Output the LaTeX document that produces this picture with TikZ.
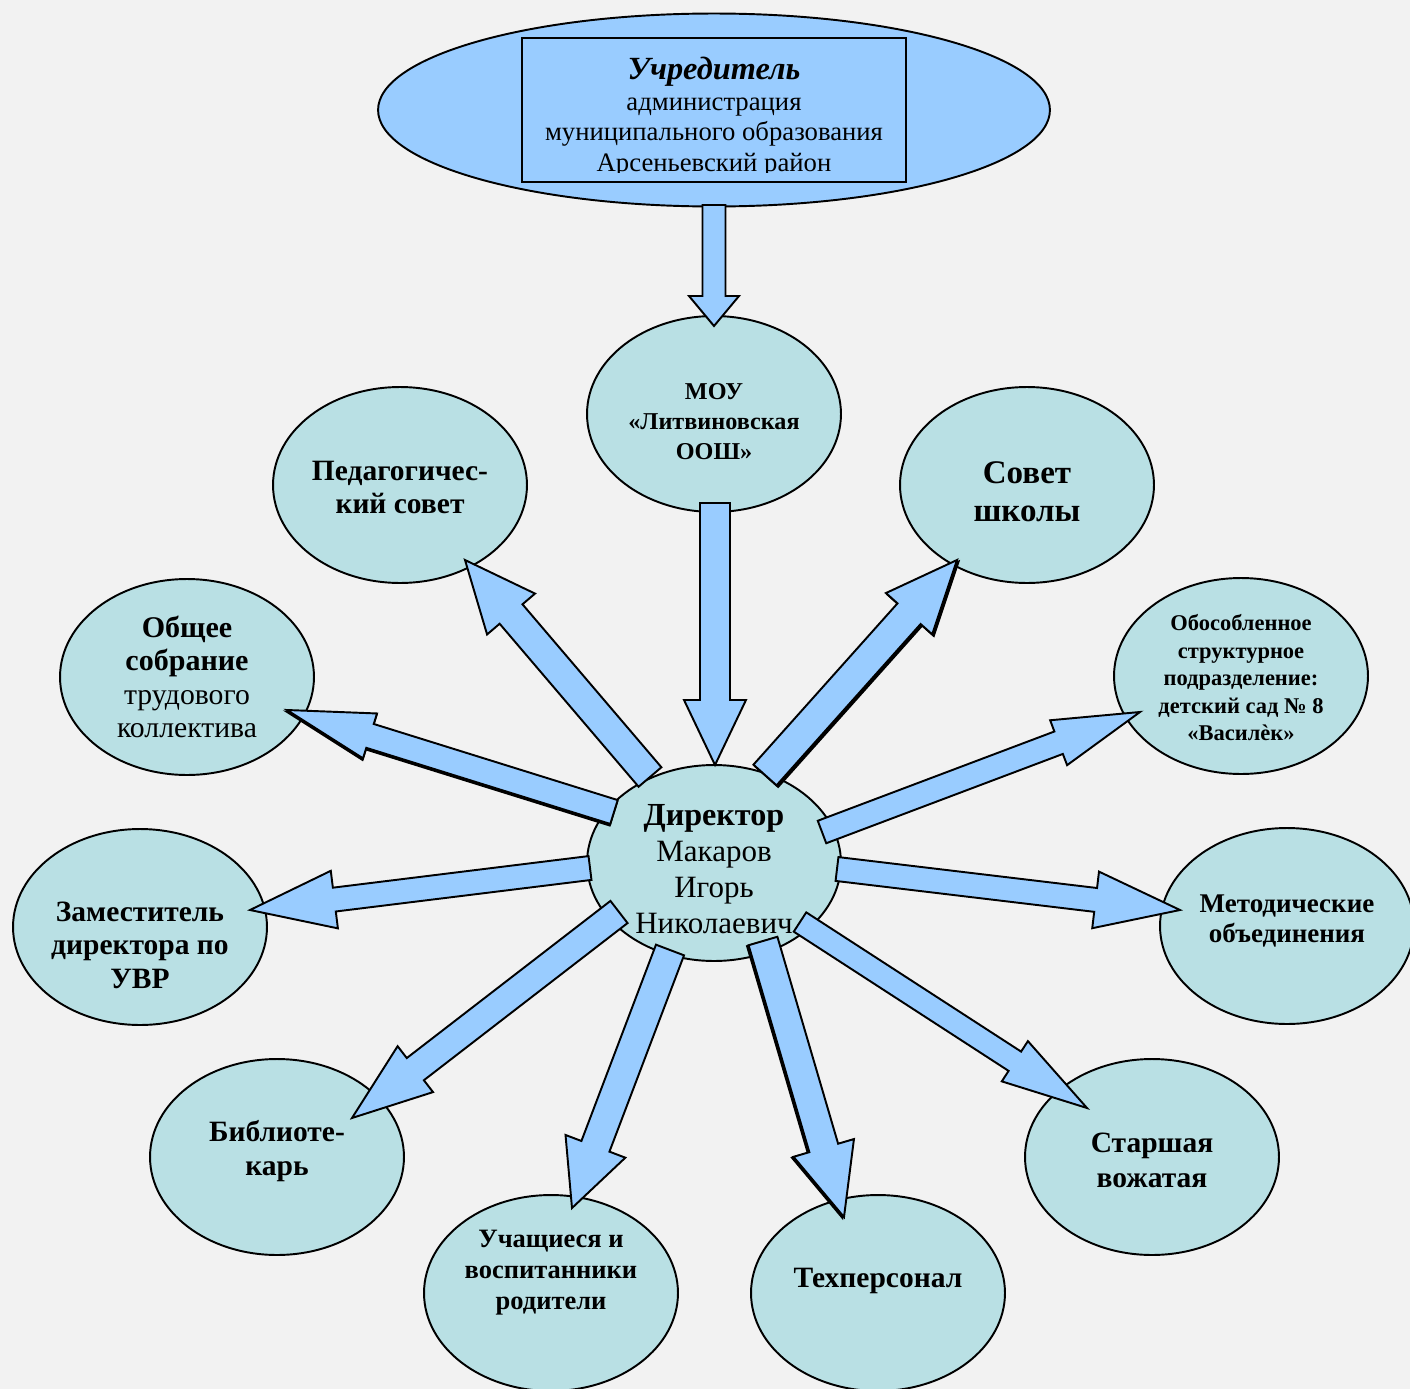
\documentclass[tikz,border=0pt]{standalone}
\usepackage{fontspec}
\setmainfont{Liberation Serif}
\usetikzlibrary{calc,shapes.geometric}
\definecolor{bgc}{HTML}{F2F2F2}
\definecolor{ovalc}{HTML}{B9E0E4}
\definecolor{bluec}{HTML}{99CCFF}
\newcommand\blockarrow[6][]{%
 \pgfmathsetlengthmacro\bw{#4*0.569055}%
 \pgfmathsetlengthmacro\bh{#5*0.569055}%
 \pgfmathsetlengthmacro\bl{#6*0.569055}%
 \coordinate (bH) at ($(#3)!\bl!(#2)$);%
 \draw[barrow,#1] ($(#2)!\bw!90:(#3)$) -- ($(bH)!\bw!90:(#3)$) -- ($(bH)!\bh!90:(#3)$) -- (#3) -- ($(bH)!\bh!-90:(#3)$) -- ($(bH)!\bw!-90:(#3)$) -- ($(#2)!\bw!-90:(#3)$) -- cycle;}
\begin{document}
\begin{tikzpicture}[x=0.02cm,y=-0.02cm,
  oval/.style={ellipse, draw, line width=1.1pt, fill=ovalc, minimum width=5.08cm, minimum height=3.92cm, inner sep=0pt},
  txt/.style={align=center, inner sep=0pt},
  barrow/.style={draw=black, fill=bluec, line width=1.1pt, line join=miter},
  fs/.style 2 args={font={\pgfmathsetlengthmacro\fsa{#1*0.569055}\pgfmathsetlengthmacro\fsb{#2*0.569055}\fontsize{\fsa}{\fsb}\selectfont}}]
\useasboundingbox (0,0) rectangle (1410,1389);
\fill[bgc] (0,0) rectangle (1410,1389);

% top
\node[ellipse, draw, line width=1.1pt, fill=bluec, minimum width=13.44cm, minimum height=3.86cm, inner sep=0pt] (uch) at (714,110) {};
\node[rectangle, draw, line width=1.3pt, fill=bluec, minimum width=7.68cm, minimum height=2.88cm, inner sep=0pt] (uchbox) at (714,110) {};
\begin{scope}
\clip (523,39) rectangle (905,172);
\node[txt, fs={26.7}{30.5}] (uchtxt) at (714,117) {{\fontsize{18.4pt}{17.4pt}\selectfont\bfseries\itshape Учредитель}\\администрация\\муниципального образования\\Арсеньевский район};
\end{scope}

% ovals
\node[oval] (mou) at (714,414) {};
\node[oval] (ped) at (400,485) {};
\node[oval] (sov) at (1027,485) {};
\node[oval] (obs) at (187,677) {};
\node[oval] (obo) at (1241,676) {};
\node[oval] (dir) at (714,863) {};
\node[oval] (zam) at (140,927) {};
\node[oval] (met) at (1287,926) {};
\node[oval] (bib) at (277,1157) {};
\node[oval] (uchs) at (551,1293) {};
\node[oval] (teh) at (878,1293) {};
\node[oval] (sta) at (1152,1157) {};

% texts
\node[txt, fs={24.2}{30}] (mou-t) at (714,422) {\bfseries МОУ\\\bfseries «Литвиновская\\\bfseries ООШ»};
\node[txt, fs={29.5}{33}] (ped-t) at (400,487) {\bfseries Педагогичес-\\\bfseries кий совет};
\node[txt, fs={33}{38}] (sov-t) at (1027,492) {\bfseries Совет\\\bfseries школы};
\node[txt, fs={29.7}{33.5}] (obs-t) at (187,677) {{\fontsize{17.1pt}{19pt}\selectfont\bfseries Общее}\\{\fontsize{17.1pt}{19pt}\selectfont\bfseries собрание}\\трудового\\коллектива};
\node[txt, fs={22.5}{27.5}] (obo-t) at (1241,678) {\bfseries Обособленное\\\bfseries структурное\\\bfseries подразделение:\\\bfseries детский сад № 8\\\bfseries «Василѐк»};
\node[txt, fs={31}{36}] (dir-t) at (714,869) {{\fontsize{18.3pt}{20.5pt}\selectfont\bfseries Директор}\\Макаров\\Игорь\\Николаевич};
\node[txt, fs={29.5}{33.5}] (zam-t) at (140,945) {\bfseries Заместитель\\\bfseries директора по\\\bfseries УВР};
\node[txt, fs={27}{31}] (met-t) at (1287,921) {\bfseries Методические\\\bfseries объединения};
\node[txt, fs={29.5}{34}] (bib-t) at (277,1151) {\bfseries Библиоте-\\\bfseries карь};
\node[txt, fs={26.5}{31}] (uchs-t) at (551,1273) {\bfseries Учащиеся и\\\bfseries воспитанники\\\bfseries родители};
\node[txt, fs={29.5}{33}] (teh-t) at (878,1281) {\bfseries Техперсонал};
\node[txt, fs={29.5}{35}] (sta-t) at (1152,1160) {\bfseries Старшая\\\bfseries вожатая};

% arrow end points
\coordinate (s1) at ($(uch)+(0,95)$);     \coordinate (e1) at ($(mou)+(0,-88)$);
\coordinate (s2) at ($(mou)+(1,89)$);     \coordinate (e2) at ($(dir)+(1,-98)$);
\coordinate (s3) at ($(dir)+(-64,-86)$);  \coordinate (e3) at ($(ped)+(65,75)$);
\coordinate (s4) at ($(dir)+(51,-88)$);   \coordinate (e4) at ($(sov)+(-70,75)$);
\coordinate (s5) at ($(dir)+(-100,-51)$); \coordinate (e5) at ($(obs)+(100,33)$);
\coordinate (s6) at ($(dir)+(-124,5)$);   \coordinate (e6) at ($(zam)+(110,-17)$);
\coordinate (s7) at ($(dir)+(-95,49)$);   \coordinate (e7) at ($(bib)+(75,-39)$);
\coordinate (s8) at ($(dir)+(-44,87)$);   \coordinate (e8) at ($(uchs)+(21,-85)$);
\coordinate (s9) at ($(dir)+(49,78)$);    \coordinate (e9) at ($(teh)+(-34,-76)$);
\coordinate (s10) at ($(dir)+(86,59)$);   \coordinate (e10) at ($(sta)+(-65,-49)$);
\coordinate (s11) at ($(dir)+(123,6)$);   \coordinate (e11) at ($(met)+(-107,-16)$);
\coordinate (s12) at ($(dir)+(108,-31)$); \coordinate (e12) at ($(obo)+(-101,36)$);

% shadows (subtle)
\begin{scope}[transform canvas={xshift=0.9pt,yshift=-0.9pt}]
\blockarrow[fill=black]{s4}{e4}{15.5}{31}{72}
\end{scope}
\begin{scope}[transform canvas={xshift=-0.3pt,yshift=-0.9pt}]
\blockarrow[fill=black]{s5}{e5}{12.5}{23.5}{87}
\end{scope}
\begin{scope}[transform canvas={xshift=-0.9pt,yshift=-0.5pt}]
\blockarrow[fill=black]{s9}{e9}{15}{31.5}{72}
\end{scope}

% arrows
\blockarrow{s1}{e1}{11.5}{25}{30}
\blockarrow{s2}{e2}{15}{31}{65}
\blockarrow{s3}{e3}{15}{31.5}{71}
\blockarrow{s4}{e4}{15.5}{31}{72}
\blockarrow{s5}{e5}{12.5}{23.5}{87}
\blockarrow{s6}{e6}{12}{29}{85}
\blockarrow{s7}{e7}{14}{29}{80}
\blockarrow{s8}{e8}{15}{32}{66}
\blockarrow{s9}{e9}{15}{31.5}{72}
\blockarrow{s10}{e10}{11.5}{24}{86}
\blockarrow{s11}{e11}{12}{28.5}{85}
\blockarrow{s12}{e12}{12}{24}{87}
\end{tikzpicture}
\end{document}
